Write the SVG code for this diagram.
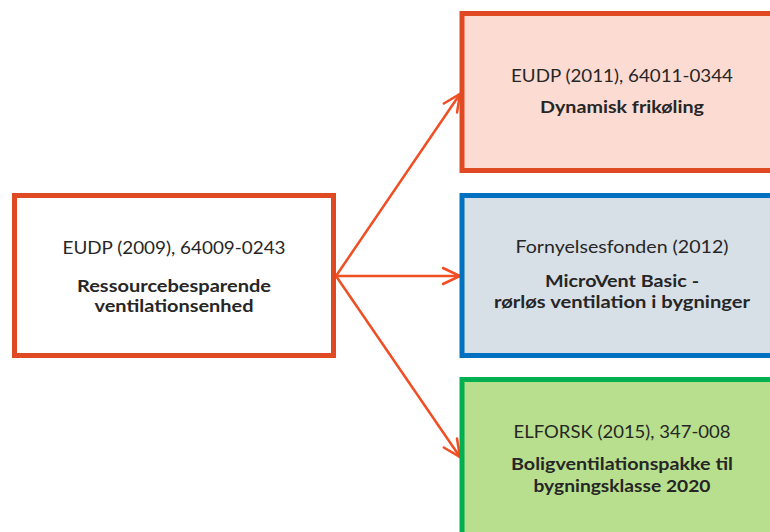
<svg xmlns="http://www.w3.org/2000/svg" width="770" height="532" viewBox="0 0 770 532">
<style>
.box{stroke-width:5;}
.t{font-family:Lato,"Open Sans","Liberation Sans",sans-serif;font-size:17.5px;fill:#262626;text-anchor:middle;}
.b{font-weight:bold;font-size:17px;}
.c{fill:none;stroke:#F04E23;stroke-width:2.5;}
</style>
<defs>
<marker id="arr" markerUnits="userSpaceOnUse" markerWidth="24" markerHeight="24" viewBox="-20 -12 24 24" refX="0" refY="0" orient="auto">
<path d="M-17,-8 L0,0 L-17,8" fill="none" stroke="#F04E23" stroke-width="2.5" stroke-linecap="round" stroke-linejoin="miter"/>
</marker>
</defs>
<rect width="770" height="532" fill="#ffffff"/>
<g id="connectors">
<line class="c" x1="336" y1="276" x2="460" y2="94" marker-end="url(#arr)"/>
<line class="c" x1="336" y1="276" x2="460" y2="276" marker-end="url(#arr)"/>
<line class="c" x1="336" y1="276" x2="460" y2="457" marker-end="url(#arr)"/>
</g>
<g id="node-eudp2009">
<rect class="box" x="14.5" y="195.5" width="319" height="160" fill="#ffffff" stroke="#E04A22"/>
<text class="t" x="174" y="254" textLength="223" lengthAdjust="spacingAndGlyphs">EUDP (2009), 64009-0243</text>
<text class="t b" x="174" y="291.5" textLength="194" lengthAdjust="spacingAndGlyphs">Ressourcebesparende</text>
<text class="t b" x="174" y="312" textLength="159" lengthAdjust="spacingAndGlyphs">ventilationsenhed</text>
</g>
<g id="node-eudp2011">
<rect class="box" x="462" y="13.5" width="330" height="157" fill="#FCDCD2" stroke="#E04A22"/>
<text class="t" x="622" y="82" textLength="222" lengthAdjust="spacingAndGlyphs">EUDP (2011), 64011-0344</text>
<text class="t b" x="622" y="113" textLength="164" lengthAdjust="spacingAndGlyphs">Dynamisk frikøling</text>
</g>
<g id="node-fornyelsesfonden">
<rect class="box" x="462" y="195.5" width="330" height="160" fill="#D7DFE7" stroke="#0070C0"/>
<text class="t" x="622" y="253" textLength="213" lengthAdjust="spacingAndGlyphs">Fornyelsesfonden (2012)</text>
<text class="t b" x="622" y="287" textLength="154" lengthAdjust="spacingAndGlyphs">MicroVent Basic -</text>
<text class="t b" x="622" y="308" textLength="256" lengthAdjust="spacingAndGlyphs">rørløs ventilation i bygninger</text>
</g>
<g id="node-elforsk">
<rect class="box" x="462" y="379.5" width="330" height="170" fill="#B8DF8D" stroke="#00B050"/>
<text class="t" x="622" y="438" textLength="217" lengthAdjust="spacingAndGlyphs">ELFORSK (2015), 347-008</text>
<text class="t b" x="622" y="470" textLength="222" lengthAdjust="spacingAndGlyphs">Boligventilationspakke til</text>
<text class="t b" x="622" y="492" textLength="177" lengthAdjust="spacingAndGlyphs">bygningsklasse 2020</text>
</g>
</svg>
